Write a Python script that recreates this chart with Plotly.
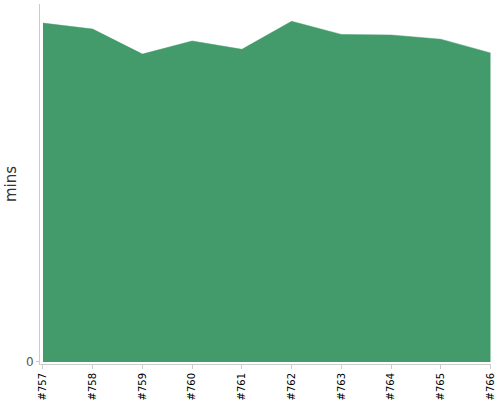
import plotly.graph_objects as go

# ── Data ──────────────────────────────────────────────────────────────────────
BUILDS = ["#757", "#758", "#759", "#760", "#761", "#762", "#763", "#764", "#765", "#766"]
MINS = [56.8, 55.8, 51.6, 53.8, 52.4, 57.1, 54.9, 54.8, 54.1, 51.8]

GREEN = "#439b6b"

# ── Chart ─────────────────────────────────────────────────────────────────────
fig = go.Figure()

fig.add_trace(go.Scatter(
    x=BUILDS,
    y=MINS,
    mode="lines",
    fill="tozeroy",
    fillcolor=GREEN,
    line=dict(color=GREEN, width=0.5),
    hoverinfo="x+y",
))

fig.update_layout(
    width=500,
    height=400,
    paper_bgcolor="white",
    plot_bgcolor="white",
    font=dict(family="DejaVu Sans, sans-serif", color="#333"),
    margin=dict(l=40, r=9, t=4, b=36, autoexpand=False),
    showlegend=False,
    xaxis=dict(
        type="category",
        range=[-0.06, 9.01],
        automargin=False,
        showgrid=False, zeroline=False,
        showline=True, linecolor="#ccc", linewidth=1,
        ticks="outside", ticklen=4, tickcolor="#ccc",
        tickangle=-90,
        tickfont=dict(size=10, color="#000"),
    ),
    yaxis=dict(
        range=[-0.34, 60],
        automargin=False,
        showgrid=False, zeroline=False,
        showline=True, linecolor="#ccc", linewidth=1,
        ticks="outside", ticklen=3, tickcolor="#ccc",
        tickvals=[0],
        tickfont=dict(size=12, color="#555"),
        title=dict(text="mins", font=dict(size=15, color="#333"), standoff=5),
    ),
)

# drop the default 8px page margin so the figure sits flush in the window
fig.write_html(
    "out.html",
    config={"displayModeBar": False},
    post_script="document.body.style.margin='0';",
)
